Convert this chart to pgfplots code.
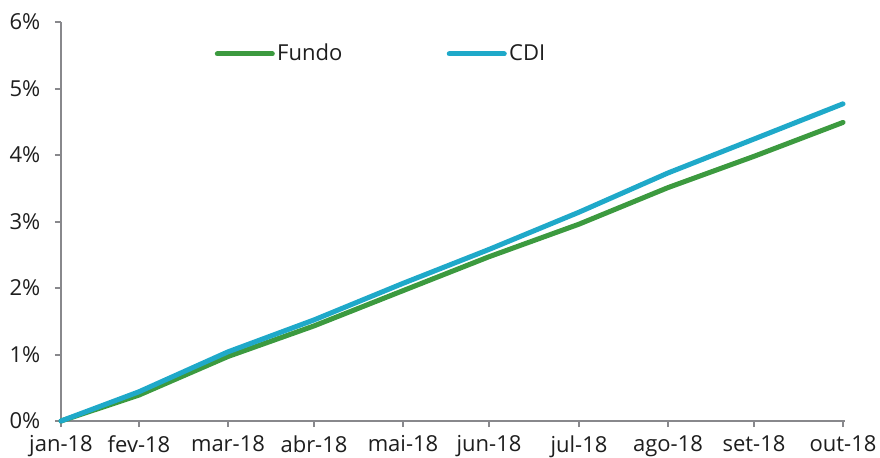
\documentclass[border=0pt]{standalone}
\usepackage{pgfplots}
\pgfplotsset{compat=1.18}
\usepackage{fontspec}
\setmainfont{Open Sans}
\definecolor{fundo}{RGB}{60,154,63}
\definecolor{cdi}{RGB}{31,169,201}
\definecolor{axgray}{RGB}{136,136,140}
\definecolor{txt}{RGB}{30,30,30}
\begin{document}
\fontsize{11pt}{13pt}\selectfont
\begin{tikzpicture}
\useasboundingbox (0,0) rectangle (440pt,228.5pt);
\begin{axis}[
  at={(30.5pt,18pt)}, anchor=south west,
  scale only axis, width=392pt, height=199.5pt,
  xmin=0, xmax=784, ymin=0, ymax=6,
  axis x line*=bottom, axis y line*=left,
  axis line style={axgray, line width=1pt},
  tick style={axgray, line width=1pt},
  tick align=outside, major tick length=3pt,
  xtick={0,78,167,253,342,428,518,607,693,782},
  xticklabels={jan-18,fev-18,mar-18,abr-18,mai-18,jun-18,jul-18,ago-18,set-18,out-18},
  ytick={0,1,2,3,4,5,6},
  yticklabels={0\%,1\%,2\%,3\%,4\%,5\%,6\%},
  ticklabel style={font=\fontsize{11pt}{13pt}\selectfont, text=txt},
  yticklabel style={xshift=-3.5pt},
  xticklabel style={yshift=-0.5pt},
  clip=false,
  legend columns=2,
  legend style={draw=none, fill=none, inner sep=0pt, at={(0.1957,0.92)}, anchor=west,
    font=\fontsize{11pt}{13pt}\selectfont, text=txt,
    nodes={inner sep=1.2pt},
    /tikz/every even column/.append style={column sep=51pt}},
  legend image code/.code={\draw[#1,line cap=round] (0pt,0pt) -- (27.5pt,0pt);},
]
\addplot[fundo, line width=2.5pt, line cap=round, line join=round] coordinates {
 (0,0) (78,0.39) (167,0.97) (253,1.43) (342,1.96) (428,2.47) (518,2.96) (607,3.51) (693,3.98) (782,4.49)};
\addlegendentry{Fundo}
\addplot[cdi, line width=2.5pt, line cap=round, line join=round] coordinates {
 (0,0) (78,0.44) (167,1.04) (253,1.52) (342,2.07) (428,2.58) (518,3.14) (607,3.73) (693,4.24) (782,4.77)};
\addlegendentry{CDI}
\end{axis}
\end{tikzpicture}
\end{document}
